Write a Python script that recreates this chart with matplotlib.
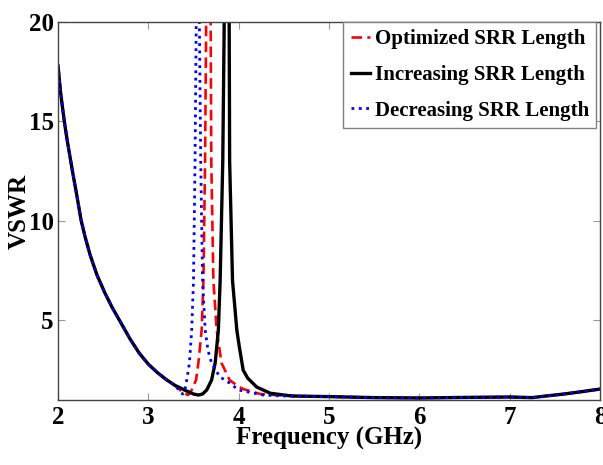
import numpy as np
import matplotlib.pyplot as plt

plt.rcParams['font.family'] = ['Liberation Serif', 'DejaVu Serif']
plt.rcParams['font.weight'] = 'bold'

# shared low-frequency part (GHz, VSWR)
low_f = [2.0, 2.03, 2.07, 2.1, 2.16, 2.2, 2.255, 2.3, 2.355, 2.43, 2.52, 2.6, 2.7, 2.8,
         2.9, 3.0, 3.1, 3.2, 3.3]
low_v = [17.8, 16.4, 15.0, 14.1, 12.5, 11.5, 10.05, 9.2, 8.3, 7.3, 6.37, 5.65, 4.85, 4.05,
         3.35, 2.8, 2.38, 2.02, 1.72]

# shared high-frequency tail
tail_f = [4.6, 5.0, 5.5, 6.0, 6.5, 7.0, 7.25, 7.4, 7.6, 7.8, 8.0]
tail_v = [1.2, 1.17, 1.12, 1.1, 1.13, 1.15, 1.12, 1.2, 1.3, 1.42, 1.55]

# resonance regions
opt_f = [3.35, 3.4, 3.44, 3.48, 3.528, 3.554, 3.59, 3.61, 3.628, 3.64, 3.665, 3.69, 3.697,
         3.72, 3.757, 3.81, 3.9, 4.0, 4.05, 4.24, 4.5]
opt_v = [1.5, 1.33, 1.25, 1.5, 2.0, 2.86, 4.5, 7.0, 13.0, 20.0, 45.0, 20.0, 13.0,
         7.0, 4.5, 2.86, 2.0, 1.67, 1.55, 1.3, 1.22]

inc_f = [3.35, 3.4, 3.5, 3.554, 3.6, 3.646, 3.7, 3.74, 3.775, 3.795, 3.824, 3.84, 3.87,
         3.895, 3.9, 3.932, 3.98, 4.007, 4.05, 4.1, 4.2, 4.35, 4.5]
inc_v = [1.62, 1.5, 1.3, 1.25, 1.3, 1.5, 2.0, 2.86, 4.5, 7.0, 13.0, 20.0, 60.0,
         20.0, 13.0, 7.0, 4.5, 3.68, 2.5, 2.1, 1.65, 1.34, 1.25]

dec_f = [3.35, 3.38, 3.4, 3.425, 3.455, 3.48, 3.5, 3.517, 3.53, 3.547, 3.565, 3.58, 3.6,
         3.63, 3.66, 3.7, 3.79, 3.9, 4.0, 4.27, 4.5]
dec_v = [1.42, 1.3, 1.38, 2.0, 2.86, 4.5, 7.0, 13.0, 20.0, 45.0, 20.0, 13.0, 7.0,
         4.5, 3.5, 2.86, 2.17, 1.85, 1.5, 1.25, 1.2]

labels = ['Optimized SRR Length', 'Increasing SRR Length', 'Decreasing SRR Length']

fig = plt.figure(figsize=(6.03, 4.65), dpi=100)
ax = fig.add_axes([58 / 603, 65 / 465, 542 / 603, 378 / 465])

ax.plot(low_f + opt_f + tail_f, low_v + opt_v + tail_v, '--', color='red', lw=1.9,
        dashes=(4, 2), label=labels[0])
ax.plot(low_f + inc_f + tail_f, low_v + inc_v + tail_v, '-', color='black', lw=2.4,
        label=labels[1])
ax.plot(low_f + dec_f + tail_f, low_v + dec_v + tail_v, ':', color='blue', lw=2.0,
        label=labels[2])

ax.set_xlim(2, 8)
ax.set_ylim(1, 20)
ax.set_xticks([2, 3, 4, 5, 6, 7, 8])
ax.set_yticks([5, 10, 15, 20])
ax.tick_params(direction='in', length=5, color='#999999', labelsize=18,
               top=True, right=True)
ax.tick_params(axis='x', pad=4)
ax.tick_params(axis='y', pad=3)
for s in ax.spines.values():
    s.set_color('#444444')
    s.set_linewidth(1.0)

ax.set_xlabel('Frequency (GHz)', fontsize=18, fontweight='bold')
ax.set_ylabel('VSWR', fontsize=18, fontweight='bold')
ax.xaxis.set_label_coords(0.5, -0.072)
ax.yaxis.set_label_coords(-0.05, 0.5)

leg = ax.legend(loc='upper right', bbox_to_anchor=(0.993, 1.0), borderaxespad=0,
                fontsize=15, handlelength=0.95, handletextpad=0.2, labelspacing=0.75,
                borderpad=0.35, fancybox=False, framealpha=1)
leg.get_frame().set_edgecolor('#808080')
leg.get_frame().set_linewidth(1.0)

fig.savefig('out.png', dpi=100)
